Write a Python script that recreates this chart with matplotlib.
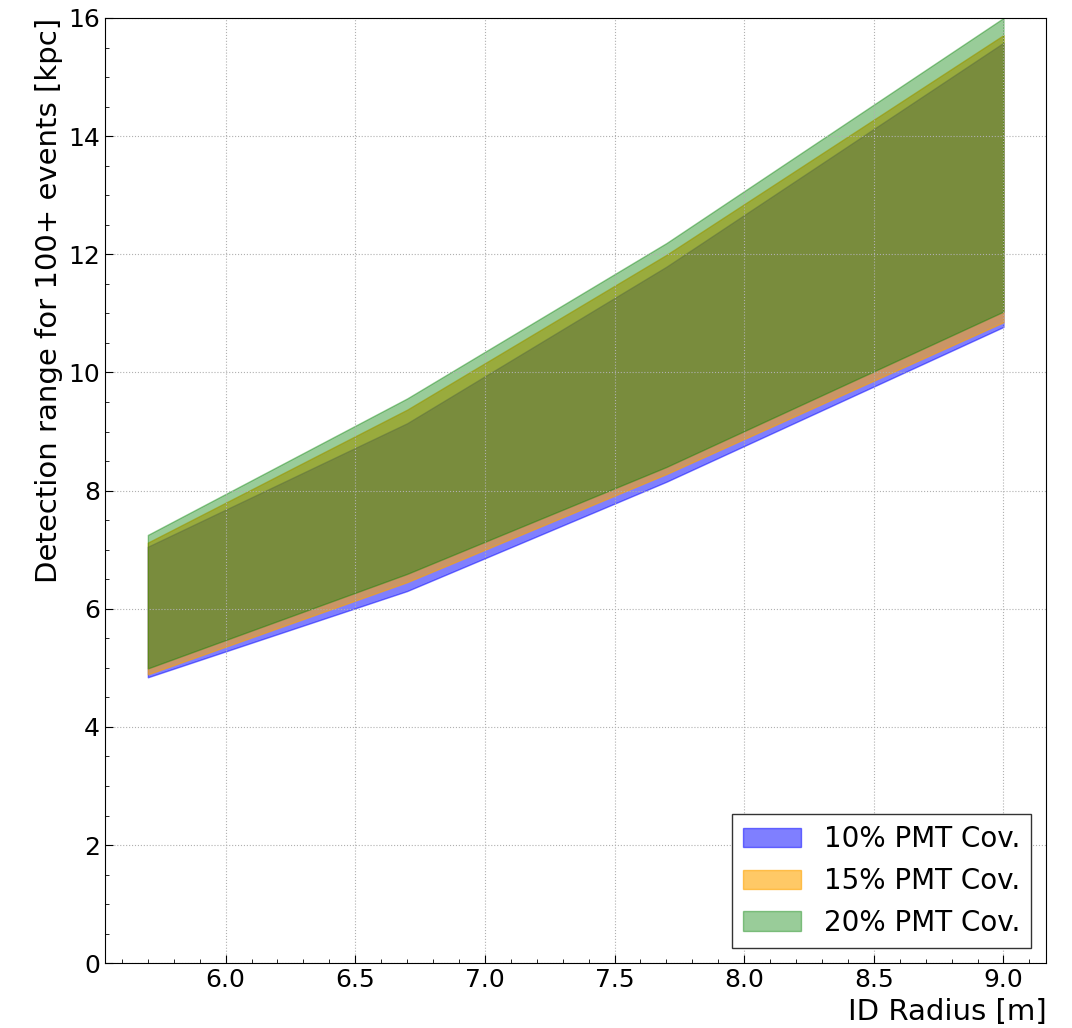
import numpy as np
import matplotlib
matplotlib.use('Agg')
import matplotlib.pyplot as plt
from matplotlib.ticker import MultipleLocator

# ID radius [m] and detection range bounds [kpc] for each PMT coverage
radius = [5.7, 6.7, 7.7, 9.0]

low_10 = [4.84, 6.30, 8.15, 10.77]
high_10 = [7.05, 9.14, 11.79, 15.58]

low_15 = [4.89, 6.45, 8.28, 10.85]
high_15 = [7.12, 9.37, 11.99, 15.71]

low_20 = [4.99, 6.59, 8.40, 11.03]
high_20 = [7.25, 9.56, 12.19, 16.0]

fig = plt.figure(figsize=(10.72, 10.28), dpi=100)
ax = fig.add_axes([0.098, 0.063, 0.878, 0.9195])

ax.fill_between(radius, low_10, high_10, color='blue', alpha=0.5, label='10% PMT Cov.')
ax.fill_between(radius, low_15, high_15, color='orange', alpha=0.6, label='15% PMT Cov.')
ax.fill_between(radius, low_20, high_20, color='green', alpha=0.4, label='20% PMT Cov.')

ax.set_ylim(0, 16)
ax.xaxis.set_major_locator(MultipleLocator(0.5))
ax.xaxis.set_minor_locator(MultipleLocator(0.1))
ax.yaxis.set_major_locator(MultipleLocator(2))
ax.yaxis.set_minor_locator(MultipleLocator(0.5))
ax.tick_params(which='both', direction='in', labelsize=18)
ax.tick_params(which='major', length=6)
ax.tick_params(which='minor', length=3)
ax.grid(True, which='major', linestyle=':', color='#b0b0b0')

ax.set_xlabel('ID Radius [m]', fontsize=21, loc='right')
ax.set_ylabel('Detection range for 100+ events [kpc]', fontsize=21, loc='top')

leg = ax.legend(loc='lower right', fontsize=20, fancybox=False, edgecolor='#333333',
                framealpha=1, handlelength=2.1, borderaxespad=0.55)

fig.savefig('out.png', dpi=100)
